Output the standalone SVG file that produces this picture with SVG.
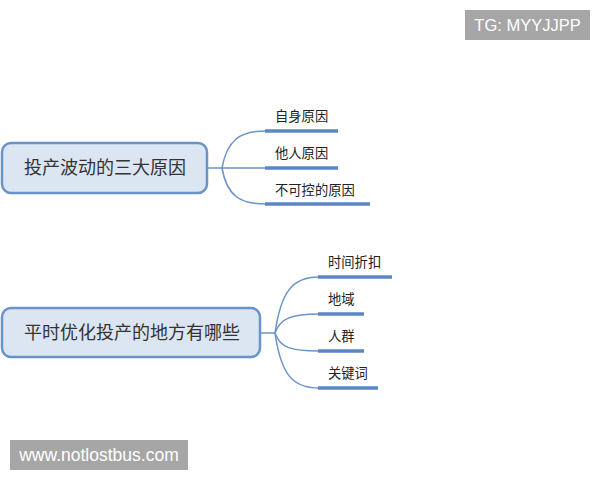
<svg xmlns="http://www.w3.org/2000/svg" width="600" height="480" viewBox="0 0 600 480">
<style>
.box{fill:#dce6f2;stroke:#6a93c9;stroke-width:2.5}
.main{font-family:"Noto Sans CJK SC","Liberation Sans",sans-serif;font-size:18px;fill:#333}
.sub{font-family:"Noto Sans CJK SC","Liberation Sans",sans-serif;font-size:13.3px;fill:#222}
.link{fill:none;stroke:#6a93c9;stroke-width:1.5}
.ul{stroke:#5b86c4;stroke-width:3.5}
.wm{fill:#a6a6a6}
.wmt{font-family:"Liberation Sans",Arial,sans-serif;fill:#fff}
</style>
<rect width="600" height="480" fill="#fff"/>
<g id="connectors">
<path class="link" d="M207,168 H222"/>
<path class="link" d="M222,168 C227,140 240,131 266,131"/>
<path class="link" d="M222,168 H266"/>
<path class="link" d="M222,168 C227,196 240,204 266,204"/>
<path class="link" d="M260,333 H275"/>
<path class="link" d="M275,333 C281,292 292,277 319,277"/>
<path class="link" d="M275,333 C280,318 292,314 319,314"/>
<path class="link" d="M275,333 C280,348 292,351 319,351"/>
<path class="link" d="M275,333 C281,374 292,388 319,388"/>
</g>
<g id="node1">
<rect class="box" x="2" y="143" width="205" height="50" rx="9"/>
<text class="main" x="24" y="174">投产波动的三大原因</text>
</g>
<g id="n1a"><text class="sub" x="275" y="121">自身原因</text><line class="ul" x1="265" y1="131" x2="338" y2="131"/></g>
<g id="n1b"><text class="sub" x="275" y="158">他人原因</text><line class="ul" x1="265" y1="168" x2="338" y2="168"/></g>
<g id="n1c"><text class="sub" x="275" y="195">不可控的原因</text><line class="ul" x1="265" y1="204" x2="370" y2="204"/></g>
<g id="node2">
<rect class="box" x="2" y="308" width="258" height="49" rx="9"/>
<text class="main" x="24" y="339">平时优化投产的地方有哪些</text>
</g>
<g id="n2a"><text class="sub" x="328" y="267">时间折扣</text><line class="ul" x1="318" y1="277" x2="392" y2="277"/></g>
<g id="n2b"><text class="sub" x="328" y="304">地域</text><line class="ul" x1="318" y1="314" x2="364" y2="314"/></g>
<g id="n2c"><text class="sub" x="328" y="341">人群</text><line class="ul" x1="318" y1="351" x2="364" y2="351"/></g>
<g id="n2d"><text class="sub" x="328" y="378">关键词</text><line class="ul" x1="318" y1="388" x2="378" y2="388"/></g>
<g id="wm1"><rect class="wm" x="465" y="10" width="125" height="30"/><text class="wmt" x="527.5" y="31" font-size="16.5" text-anchor="middle">TG: MYYJJPP</text></g>
<g id="wm2"><rect class="wm" x="10" y="440" width="178" height="30"/><text class="wmt" x="99" y="461" font-size="17.5" text-anchor="middle">www.notlostbus.com</text></g>
</svg>
